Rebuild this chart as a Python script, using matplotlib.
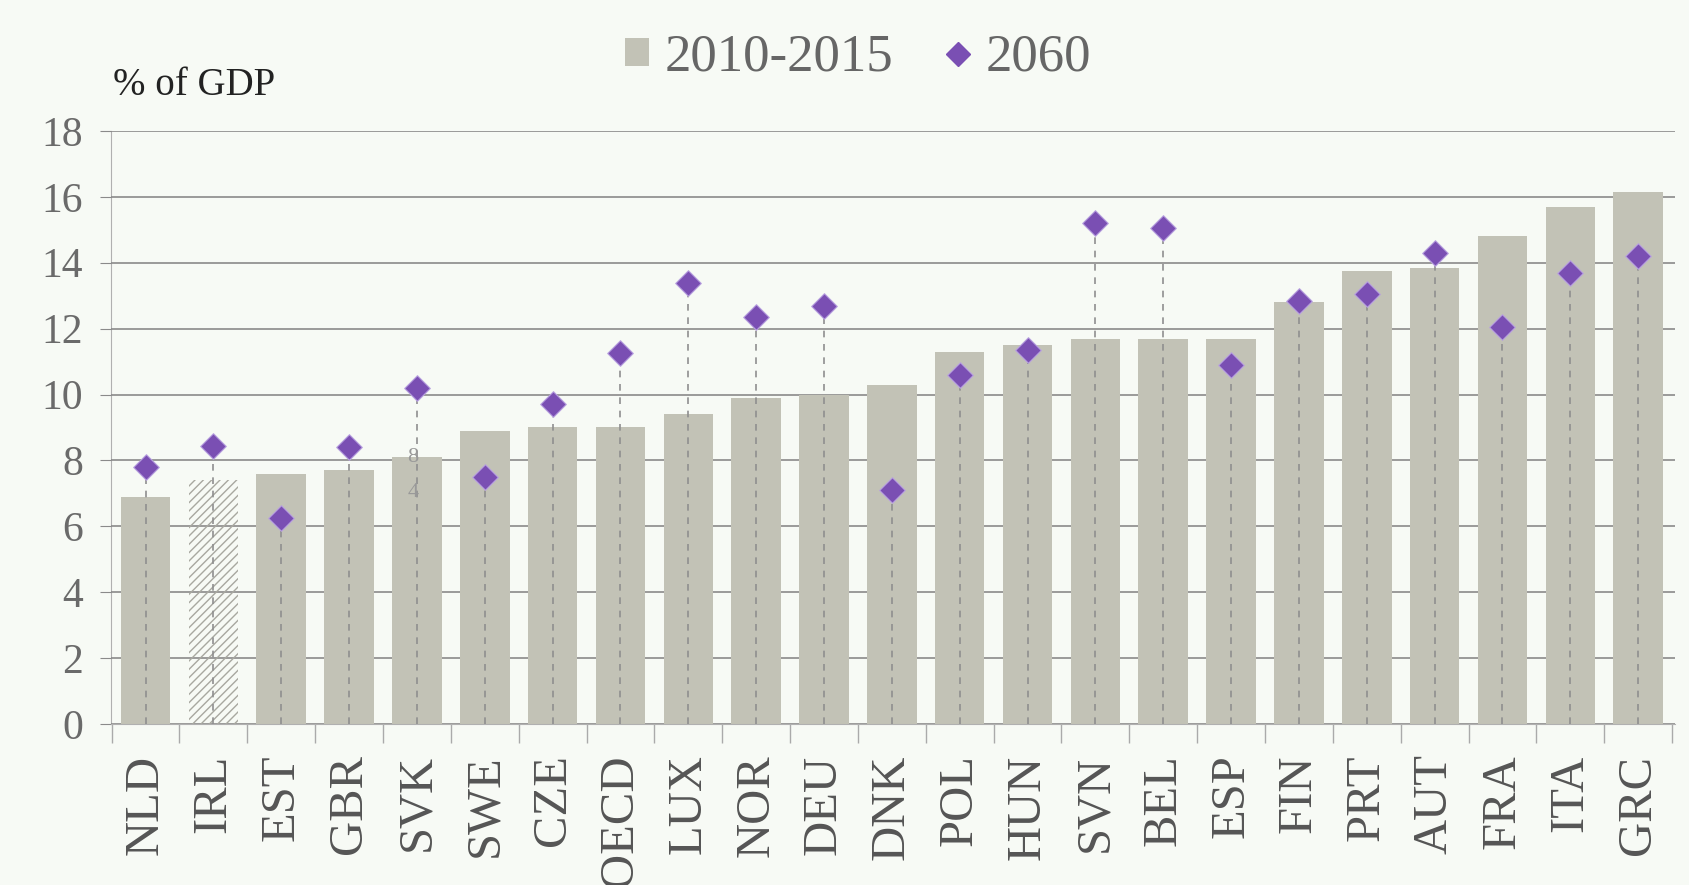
import matplotlib
matplotlib.use("Agg")
import matplotlib.pyplot as plt
import numpy as np
from matplotlib.lines import Line2D
from matplotlib.patches import Patch

countries = ["NLD", "IRL", "EST", "GBR", "SVK", "SWE", "CZE", "OECD", "LUX", "NOR", "DEU", "DNK",
             "POL", "HUN", "SVN", "BEL", "ESP", "FIN", "PRT", "AUT", "FRA", "ITA", "GRC"]
v_2010_2015 = [6.9, 7.4, 7.6, 7.7, 8.1, 8.9, 9.0, 9.0, 9.4, 9.9, 10.0, 10.3,
               11.3, 11.5, 11.7, 11.7, 11.7, 12.8, 13.75, 13.85, 14.8, 15.7, 16.15]
v_2060 = [7.8, 8.45, 6.25, 8.4, 10.2, 7.5, 9.7, 11.25, 13.4, 12.35, 12.7, 7.1,
          10.6, 11.35, 15.2, 15.05, 10.9, 12.85, 13.05, 14.3, 12.05, 13.7, 14.2]
yticks = [0, 2, 4, 6, 8, 10, 12, 14, 16, 18]

bg = "#f7faf5"
bar_col = "#c2c2b6"
dia_col = "#7a4fb3"
grid_col = "#8a8a8a"
serif = ["Liberation Serif", "DejaVu Serif"]

fig = plt.figure(figsize=(16.89, 8.85), dpi=100, facecolor=bg)
ax = fig.add_axes([0.0657, 0.182, 0.9263, 0.670])
ax.set_facecolor(bg)

x = np.arange(len(countries))
bars = ax.bar(x, v_2010_2015, width=0.73, color=bar_col, zorder=2)
# IRL is hatched, not filled
bars[1].set_facecolor("none")
bars[1].set_edgecolor("#a8a8a0")
bars[1].set_hatch("////")
bars[1].set_linewidth(0)

ax.vlines(x, 0, v_2060, colors="#8f8f8f", linestyles=(0, (4, 4)), linewidth=1.2, zorder=3)
ax.scatter(x, v_2060, marker="D", s=170, color=dia_col, edgecolors="#b9a2e0", linewidths=0.8, zorder=4)

# faint scan artefacts on the SVK bar
ax.text(4 - 0.14, 7.95, "8", fontsize=16, color="#999999", family=serif, zorder=5)
ax.text(4 - 0.14, 6.9, "4", fontsize=16, color="#999999", family=serif, zorder=5)

ax.set_ylim(0, 18)
ax.set_xlim(-0.51, len(countries) - 0.45)
ax.set_yticks(yticks)
ax.set_yticklabels([str(t) for t in yticks], fontsize=30, color="#6a6a6a", family=serif)
ax.yaxis.grid(True, color=grid_col, linewidth=1.2, zorder=0)
ax.tick_params(axis="y", length=8, color=grid_col, pad=12)

ax.set_xticks(x)
ax.set_xticklabels(countries, rotation=90, fontsize=35, color="#555555", family=serif)
ax.set_xticks(np.arange(-0.5, len(countries), 1.0), minor=True)
ax.tick_params(axis="x", which="major", length=0, pad=22)
ax.tick_params(axis="x", which="minor", length=14, color="#aaaaaa", width=1)

for s in ["top", "right"]:
    ax.spines[s].set_visible(False)
ax.spines["left"].set_color("#b0b0b0")
ax.spines["bottom"].set_color("#b0b0b0")
ax.spines["left"].set_zorder(1)

fig.text(0.067, 0.893, "% of GDP", fontsize=28, color="#222222", family=serif)

handles = [Patch(facecolor=bar_col, edgecolor="none"),
           Line2D([], [], marker="D", linestyle="none", color=dia_col, markersize=12)]
fig.legend(handles, ["2010-2015", "2060"], loc="center", bbox_to_anchor=(0.508, 0.935),
           ncol=2, frameon=False, prop={"family": serif, "size": 38},
           labelcolor="#666666", handlelength=0.45, handleheight=0.45,
           handletextpad=0.3, columnspacing=1.0)

fig.savefig("out.png", dpi=100, facecolor=bg)
